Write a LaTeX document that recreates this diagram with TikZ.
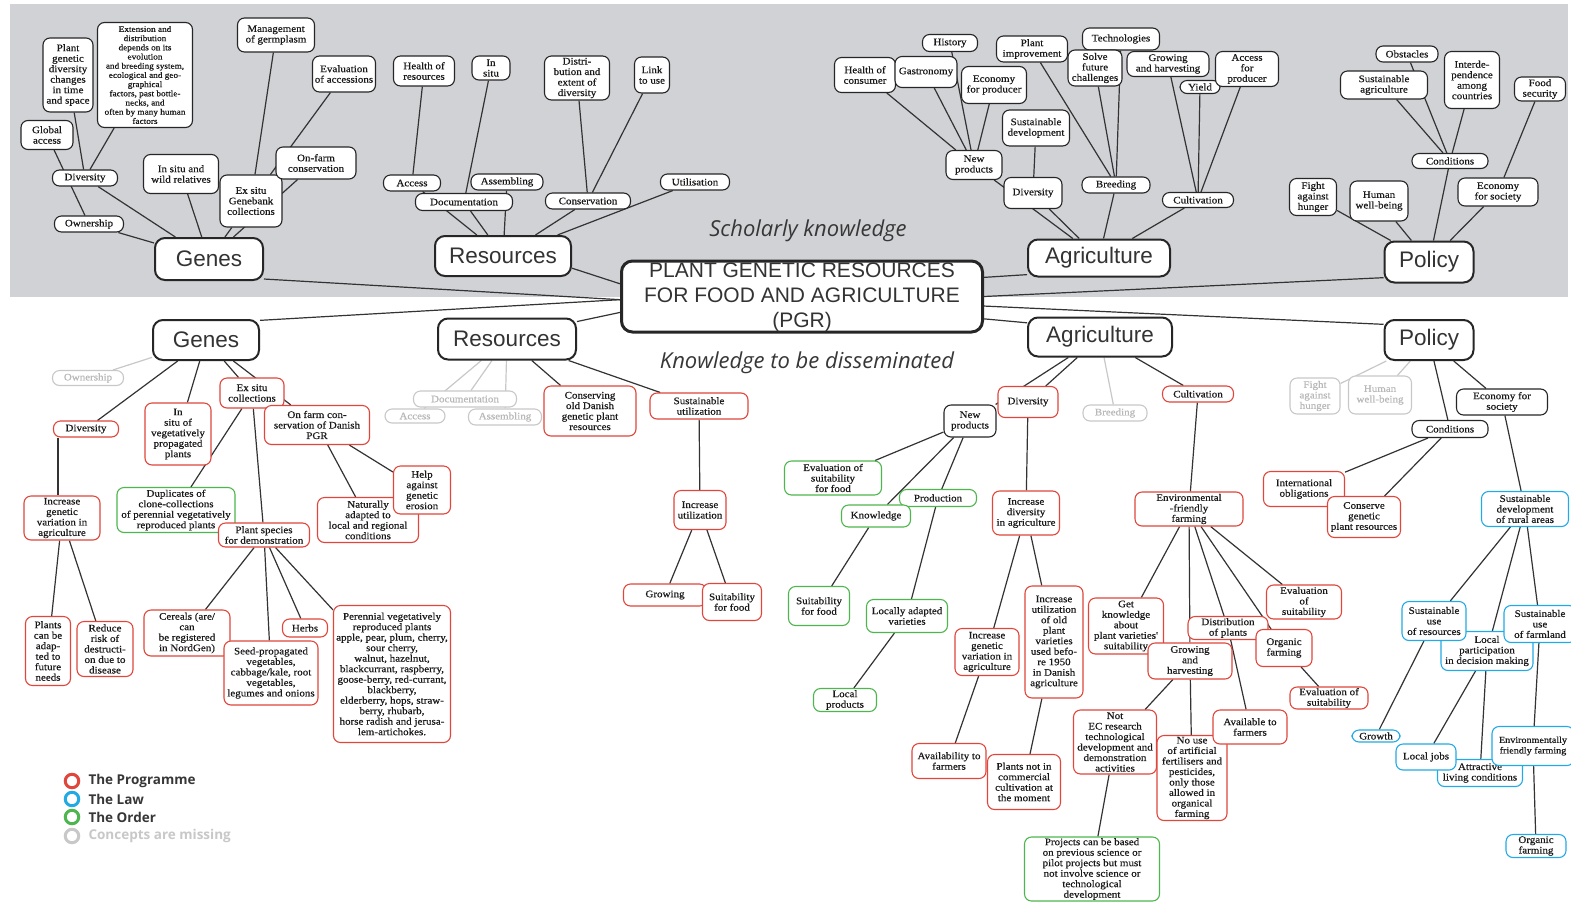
\documentclass[tikz,border=0pt]{standalone}
\usepackage{fontspec}
\newfontfamily\nodeserif[FakeStretch=1.1,FakeBold=0.5]{Liberation Serif}
\newfontfamily\mainsans{Liberation Sans}
\newfontfamily\labelsans{Open Sans}

\definecolor{bggray}{RGB}{209,210,214}
\definecolor{progred}{RGB}{224,70,60}
\definecolor{lawblue}{RGB}{35,170,228}
\definecolor{ordgreen}{RGB}{78,182,78}
\definecolor{missgray}{RGB}{200,200,200}
\definecolor{inkdark}{RGB}{25,25,25}
\definecolor{labgray}{RGB}{55,55,55}

\pgfdeclarelayer{bg}
\pgfdeclarelayer{edges}
\pgfsetlayers{bg,edges,main}

\tikzset{
  concept/.style={draw=black!85, rounded corners=7pt, fill=white, align=center,
    inner sep=1pt, line width=1.1pt, text=inkdark,
    font=\nodeserif\fontsize{10}{10.5}\selectfont},
  blk/.style={concept},
  prg/.style={concept, draw=progred},
  law/.style={concept, draw=lawblue},
  ord/.style={concept, draw=ordgreen},
  miss/.style={concept, draw=missgray, text=missgray!92!black},
  sz/.style 2 args={minimum width=#1pt, minimum height=#2pt},
  topic/.style={draw=black!85, rounded corners=10pt, fill=white, line width=2pt,
    text=black!80, inner sep=2pt, font=\mainsans\fontsize{22.5}{26}\selectfont},
  link/.style={line width=1.2pt, black!80},
  misslink/.style={line width=1.2pt, missgray},
  section/.style={font=\labelsans\itshape\fontsize{22}{26}\selectfont, text=labgray},
  legendtext/.style={anchor=west, font=\labelsans\bfseries\fontsize{13.5}{15}\selectfont, text=labgray},
  legendring/.style={draw=#1, line width=3pt, circle, minimum size=13.5pt, inner sep=0pt},
}

\begin{document}
\begin{tikzpicture}[x=1pt,y=-1pt]
\useasboundingbox (0,0) rectangle (1571,903);
\begin{pgfonlayer}{bg}
  \fill[white] (0,0) rectangle (1571,903);
  \fill[bggray] (10,4) rectangle (1568,297);
\end{pgfonlayer}

% ===== central concept: frame and its three-line title =====
\node[draw=black!85, rounded corners=11pt, fill=white, line width=3pt,
  minimum width=361pt, minimum height=71pt, inner sep=0pt] (pgr) at (802,296.5) {};
\node[align=center, text=black!80, inner sep=0pt,
  font=\mainsans\fontsize{21}{25.2}\selectfont] (pgrtext) at (802,297.6)
  {PLANT GENETIC RESOURCES\\FOR FOOD AND AGRICULTURE\\(PGR)};

\node[section] (scholar) at (808,231) {Scholarly knowledge};
\node[section] (dissem) at (807,363) {Knowledge to be disseminated};

% ===== upper map: Genes =====
\node[topic, sz={108}{42}] (gT) at (209,259) {Genes};
\node[blk, sz={50}{74}] (gtPlant) at (68,75) {Plant\\genetic\\diversity\\changes\\in time\\and space};
\node[blk, sz={95}{105}, font=\nodeserif\fontsize{8.4}{9.2}\selectfont] (gtExt) at (145,75)
  {Extension and\\distribution\\depends on its\\evolution\\and breeding system,\\ecological and geo-\\graphical\\factors, past bottle-\\necks, and\\often by many human\\factors};
\node[blk, sz={52}{29}] (gtGlobal) at (47,135) {Global\\access};
\node[blk, sz={65}{16}] (gtDiv) at (85,178) {Diversity};
\node[blk, sz={69}{16}] (gtOwn) at (89,224) {Ownership};
\node[blk, sz={75}{39}] (gtInsitu) at (181,174) {In situ and\\wild relatives};
\node[blk, sz={77}{34}] (gtMgmt) at (276,35) {Management\\of germplasm};
\node[blk, sz={63}{36}] (gtEval) at (344,74) {Evaluation\\of accessions};
\node[blk, sz={62}{52}] (gtExsitu) at (251,201) {Ex situ\\Genebank\\collections};
\node[blk, sz={80}{32}] (gtOnfarm) at (316,163) {On-farm\\conservation};

% ===== upper map: Resources =====
\node[topic, sz={136}{40}] (rT) at (503,256) {Resources};
\node[blk, sz={61}{30}] (rtHealth) at (424,71) {Health of\\resources};
\node[blk, sz={38}{24}] (rtInsitu) at (491,68) {In\\situ};
\node[blk, sz={65}{44}] (rtDistr) at (577,78) {Distri-\\bution and\\extent of\\diversity};
\node[blk, sz={35}{36}] (rtLink) at (652,75) {Link\\to use};
\node[blk, sz={57}{16}] (rtAccess) at (412,183) {Access};
\node[blk, sz={72}{16}] (rtAssem) at (507,182) {Assembling};
\node[blk, sz={97}{17}] (rtDoc) at (464,202) {Documentation};
\node[blk, sz={85}{16}] (rtCons) at (588,201) {Conservation};
\node[blk, sz={69}{16}] (rtUtil) at (695,182) {Utilisation};

% ===== upper map: Agriculture =====
\node[topic, sz={142}{37}] (aT) at (1099,258) {Agriculture};
\node[blk, sz={55}{17}] (atHist) at (950,43) {History};
\node[blk, sz={61}{35}] (atHealth) at (865,75) {Health of\\consumer};
\node[blk, sz={62}{31}] (atGastro) at (926,72) {Gastronomy};
\node[blk, sz={65}{37}] (atEcon) at (994,85) {Economy\\for producer};
\node[blk, sz={71}{26}] (atPlant) at (1032,49) {Plant\\improvement};
\node[blk, sz={77}{22}] (atTech) at (1121,39) {Technologies};
\node[blk, sz={54}{36}] (atSolve) at (1095,68) {Solve\\future\\challenges};
\node[blk, sz={82}{25}] (atGrow) at (1168,64) {Growing\\and harvesting};
\node[blk, sz={40}{13}] (atYield) at (1200,87) {Yield};
\node[blk, sz={63}{35}] (atAccess) at (1247,69) {Access\\for\\producer};
\node[blk, sz={67}{36}] (atSust) at (1036,128) {Sustainable\\development};
\node[blk, sz={56}{29}] (atNew) at (974,165) {New\\products};
\node[blk, sz={58}{31}] (atDiv) at (1033,193) {Diversity};
\node[blk, sz={68}{16}] (atBreed) at (1116,185) {Breeding};
\node[blk, sz={71}{15}] (atCult) at (1198,200) {Cultivation};

% ===== upper map: Policy =====
\node[topic, sz={89}{41}] (pT) at (1429,262) {Policy};
\node[blk, sz={62}{16}] (ptObst) at (1407,54) {Obstacles};
\node[blk, sz={87}{28}] (ptSust) at (1384,85) {Sustainable\\agriculture};
\node[blk, sz={55}{57}] (ptInter) at (1472,80) {Interde-\\pendence\\among\\countries};
\node[blk, sz={51}{24}] (ptFood) at (1540,89) {Food\\security};
\node[blk, sz={76}{15}] (ptCond) at (1450,161) {Conditions};
\node[blk, sz={47}{37}] (ptFight) at (1313,197) {Fight\\against\\hunger};
\node[blk, sz={58}{40}] (ptHuman) at (1379,201) {Human\\well-being};
\node[blk, sz={80}{28}] (ptEcon) at (1498,192) {Economy\\for society};

% ===== lower map: Genes =====
\node[topic, sz={106}{40}] (gB) at (206,340) {Genes};
\node[miss, sz={71}{15}] (gbOwn) at (88,378) {Ownership};
\node[prg, sz={65}{16}] (gbDiv) at (86,429) {Diversity};
\node[prg, sz={66}{62}] (gbInsitu) at (178,434) {In\\situ of\\vegetatively\\propagated\\plants};
\node[prg, sz={64}{30}] (gbExsitu) at (252,393) {Ex situ\\collections};
\node[prg, sz={105}{39}] (gbOnfarm) at (317,425) {On farm con-\\servation of Danish\\PGR};
\node[prg, sz={76}{44}] (gbIncr) at (62,518) {Increase\\genetic\\variation in\\agriculture};
\node[ord, sz={118}{45}] (gbDup) at (176,510) {Duplicates of\\clone-collections\\of perennial vegetatively\\reproduced plants};
\node[prg, sz={91}{24}] (gbPlant) at (264,535) {Plant species\\for demonstration};
\node[prg, sz={101}{45}] (gbNat) at (368,520) {Naturally\\adapted to\\local and regional\\conditions};
\node[prg, sz={57}{48}] (gbHelp) at (422,490) {Help\\against\\genetic\\erosion};
\node[prg, sz={45}{69}] (gbPlants) at (48,651) {Plants\\can be\\adap-\\ted to\\future\\needs};
\node[prg, sz={56}{55}] (gbReduce) at (105,649) {Reduce\\risk of\\destructi-\\on due to\\disease};
\node[prg, sz={86}{46}] (gbCereal) at (187,633) {Cereals (are/\\can\\be registered\\in NordGen)};
\node[prg, sz={94}{64}] (gbSeed) at (271,673) {Seed-propagated\\vegetables,\\cabbage/kale, root\\vegetables,\\legumes and onions};
\node[prg, sz={45}{18}] (gbHerbs) at (305,628) {Herbs};
\node[prg, sz={117}{137}] (gbPeren) at (392,674) {Perennial vegetatively\\reproduced plants\\apple, pear, plum, cherry,\\sour cherry,\\walnut, hazelnut,\\blackcurrant, raspberry,\\goose-berry, red-currant,\\blackberry,\\elderberry, hops, straw-\\berry, rhubarb,\\horse radish and jerusa-\\lem-artichokes.};

% ===== lower map: Resources =====
\node[topic, sz={138}{41}] (rB) at (507,339) {Resources};
\node[miss, sz={103}{16}] (rbDoc) at (465,399) {Documentation};
\node[miss, sz={60}{14}] (rbAccess) at (415,416) {Access};
\node[miss, sz={73}{16}] (rbAssem) at (505,417) {Assembling};
\node[prg, sz={92}{50}] (rbCons) at (590,411) {Conserving\\old Danish\\genetic plant\\resources};
\node[prg, sz={98}{26}] (rbSust) at (699,406) {Sustainable\\utilization};
\node[prg, sz={52}{39}] (rbIncr) at (700,510) {Increase\\utilization};
\node[prg, sz={83}{22}] (rbGrow) at (665,595) {Growing};
\node[prg, sz={59}{37}] (rbSuit) at (732,602) {Suitability\\for food};

% ===== lower map: Agriculture =====
\node[topic, sz={144}{39}] (aB) at (1100,337) {Agriculture};
\node[blk, sz={52}{32}] (abNew) at (970,421) {New\\products};
\node[prg, sz={60}{31}] (abDiv) at (1028,402) {Diversity};
\node[miss, sz={64}{16}] (abBreed) at (1115,413) {Breeding};
\node[prg, sz={71}{16}] (abCult) at (1198,394) {Cultivation};
\node[ord, sz={97}{34}] (abEval) at (833,478) {Evaluation of\\suitability\\for food};
\node[ord, sz={77}{17}] (abProd) at (938,498) {Production};
\node[ord, sz={69}{22}] (abKnow) at (876,516) {Knowledge};
\node[ord, sz={61}{39}] (abSuit) at (819,606) {Suitability\\for food};
\node[ord, sz={81}{33}] (abLocal) at (907,616) {Locally adapted\\varieties};
\node[ord, sz={63}{23}] (abLprod) at (845,700) {Local\\products};
\node[prg, sz={67}{44}] (abIncDiv) at (1026,513) {Increase\\diversity\\in agriculture};
\node[prg, sz={64}{47}] (abIncGen) at (987,652) {Increase\\genetic\\variation in\\agriculture};
\node[prg, sz={58}{112}] (abIncUtil) at (1054,642) {Increase\\utilization\\of old\\plant\\varieties\\used befo-\\re 1950\\in Danish\\agriculture};
\node[prg, sz={74}{35}] (abAvail) at (949,761) {Availability to\\farmers};
\node[prg, sz={73}{55}] (abPlantsNot) at (1024,782) {Plants not in\\commercial\\cultivation at\\the moment};
\node[prg, sz={108}{34}] (abEnv) at (1189,509) {Environmental\\-friendly\\farming};
\node[prg, sz={75}{56}] (abGet) at (1126,626) {Get\\knowledge\\about\\plant varieties'\\suitability};
\node[prg, sz={84}{36}] (abGrow) at (1190,661) {Growing\\and\\harvesting};
\node[prg, sz={80}{23}] (abDist) at (1228,628) {Distribution\\of plants};
\node[prg, sz={75}{34}] (abEval3) at (1304,602) {Evaluation\\of\\suitability};
\node[prg, sz={56}{37}] (abOrg) at (1284,648) {Organic\\farming};
\node[prg, sz={78}{22}] (abEval2) at (1329,698) {Evaluation of\\suitability};
\node[prg, sz={83}{64}] (abNotEC) at (1115,742) {Not\\EC research\\technological\\development and\\demonstration\\activities};
\node[prg, sz={70}{85}] (abNoUse) at (1192,778) {No use\\of artificial\\fertilisers and\\pesticides,\\only those\\allowed in\\organical\\farming};
\node[prg, sz={74}{34}] (abAvail2) at (1250,727) {Available to\\farmers};
\node[ord, sz={135}{64}] (abProj) at (1092,869) {Projects can be based\\on previous science or\\pilot projects but must\\not involve science or\\technological\\development};

% ===== lower map: Policy =====
\node[topic, sz={89}{40}] (pB) at (1429,340) {Policy};
\node[miss, sz={50}{36}] (pbFight) at (1315,396) {Fight\\against\\hunger};
\node[miss, sz={63}{38}] (pbHuman) at (1380,395) {Human\\well-being};
\node[blk, sz={91}{26}] (pbEcon) at (1502,402) {Economy for\\society};
\node[blk, sz={76}{17}] (pbCond) at (1450,429) {Conditions};
\node[prg, sz={81}{35}] (pbIntl) at (1304,489) {International\\obligations};
\node[prg, sz={73}{41}] (pbConserve) at (1364,517) {Conserve\\genetic\\plant resources};
\node[law, sz={87}{35}] (pbSustDev) at (1525,509) {Sustainable\\development\\of rural areas};
\node[law, sz={92}{39}] (pbLocalP) at (1487,651) {Local\\participation\\in decision making};
\node[law, sz={64}{39}] (pbSustRes) at (1434,621) {Sustainable\\use\\of resources};
\node[law, sz={72}{37}] (pbSustFarm) at (1540,624) {Sustainable\\use\\of farmland};
\node[law, sz={48}{12}] (pbGrowth) at (1376,736) {Growth};
\node[law, sz={85}{27}] (pbAttr) at (1480,773) {Attractive\\living conditions};
\node[law, sz={60}{26}] (pbJobs) at (1426,757) {Local jobs};
\node[law, sz={82}{39}, font=\nodeserif\fontsize{9.2}{10.5}\selectfont] (pbEnvF) at (1533,746) {Environmentally\\friendly farming};
\node[law, sz={60}{23}] (pbOrg) at (1536,846) {Organic\\farming};

% ===== legend =====
\node[legendring=progred] (lgR) at (72,781) {};
\node[legendring=lawblue] (lgB) at (72,799) {};
\node[legendring=ordgreen] (lgG) at (72,817) {};
\node[legendring=missgray] (lgM) at (72,836) {};
\node[legendtext] (ltR) at (85,781) {The Programme};
\node[legendtext] (ltB) at (85,799) {The Law};
\node[legendtext] (ltG) at (85,817) {The Order};
\node[legendtext, text=missgray] (ltM) at (85,836) {Concepts are missing};

% ===== connectors =====
\begin{pgfonlayer}{edges}
  % main topics to the central concept
  \draw[link] (gT.-20) -- (pgr.181);
  \draw[link] (rT.-10) -- (pgr.176);
  \draw[link] (aT.193) -- (pgr.6);
  \draw[link] (pT.199) -- (pgr.east);
  \draw[link] (gB.20) -- (pgr.181);
  \draw[link] (rB.14) -- (pgr.185);
  \draw[link] (aB.169) -- (pgr.-7);
  \draw[link] (pB.161) -- (pgr.-3);

  % upper map
  \foreach \a/\b in {gT/gtOwn, gT/gtDiv, gT/gtInsitu, gT/gtExsitu, gT/gtOnfarm,
      gtOwn/gtGlobal, gtDiv/gtPlant, gtDiv/gtExt, gtExsitu/gtMgmt, gtExsitu/gtEval,
      rT/rtAccess, rT/rtDoc, rT/rtAssem, rT/rtCons, rT/rtUtil,
      rtAccess/rtHealth, rtDoc/rtInsitu, rtCons/rtDistr, rtCons/rtLink,
      aT/atNew, aT/atDiv, aT/atBreed, aT/atCult,
      atNew/atHealth, atNew/atGastro, atNew/atHist, atNew/atEcon, atDiv/atSust,
      atBreed/atPlant, atBreed/atSolve, atBreed/atTech,
      atCult/atGrow, atCult/atYield, atCult/atAccess,
      pT/ptFight, pT/ptHuman, pT/ptCond, pT/ptEcon,
      ptCond/ptSust, ptCond/ptObst, ptCond/ptInter, ptEcon/ptFood}
    \draw[link] (\a) -- (\b);

  % lower map
  \foreach \a/\b in {gB/gbDiv, gB/gbInsitu, gB/gbExsitu, gB/gbOnfarm,
      gbIncr/gbPlants, gbIncr/gbReduce, gbExsitu/gbDup, gbExsitu/gbPlant,
      gbOnfarm/gbNat, gbOnfarm/gbHelp,
      gbPlant/gbCereal, gbPlant/gbSeed, gbPlant/gbHerbs, gbPlant/gbPeren,
      rB/rbCons, rB/rbSust, rbSust/rbIncr, rbIncr/rbGrow, rbIncr/rbSuit,
      aB/abNew, aB/abDiv, aB/abCult,
      abNew/abEval, abNew/abKnow, abNew/abProd, abKnow/abSuit, abProd/abLocal,
      abLocal/abLprod, abDiv/abIncDiv, abIncDiv/abIncGen, abIncDiv/abIncUtil,
      abIncGen/abAvail, abIncUtil/abPlantsNot,
      abCult/abEnv, abEnv/abGet, abEnv/abGrow, abEnv/abDist, abEnv/abOrg, abEnv/abEval3,
      abOrg/abEval2, abDist/abAvail2, abGrow/abNotEC, abGrow/abNoUse, abNotEC/abProj,
      pB/pbCond, pB/pbEcon, pbCond/pbIntl, pbCond/pbConserve, pbEcon/pbSustDev,
      pbSustDev/pbSustRes, pbSustDev/pbLocalP, pbSustDev/pbSustFarm,
      pbSustRes/pbGrowth, pbLocalP/pbJobs, pbLocalP/pbAttr,
      pbSustFarm/pbEnvF, pbEnvF/pbOrg}
    \draw[link] (\a) -- (\b);
  \draw[link] ([xshift=-28pt]gbDiv.south) -- ([xshift=-4pt]gbIncr.north);

  % links to concepts that are missing
  \foreach \a/\b in {gB/gbOwn, rB/rbAccess, rB/rbDoc, rB/rbAssem, aB/abBreed,
      pB/pbFight, pB/pbHuman}
    \draw[misslink] (\a) -- (\b);
\end{pgfonlayer}
\end{tikzpicture}
\end{document}
